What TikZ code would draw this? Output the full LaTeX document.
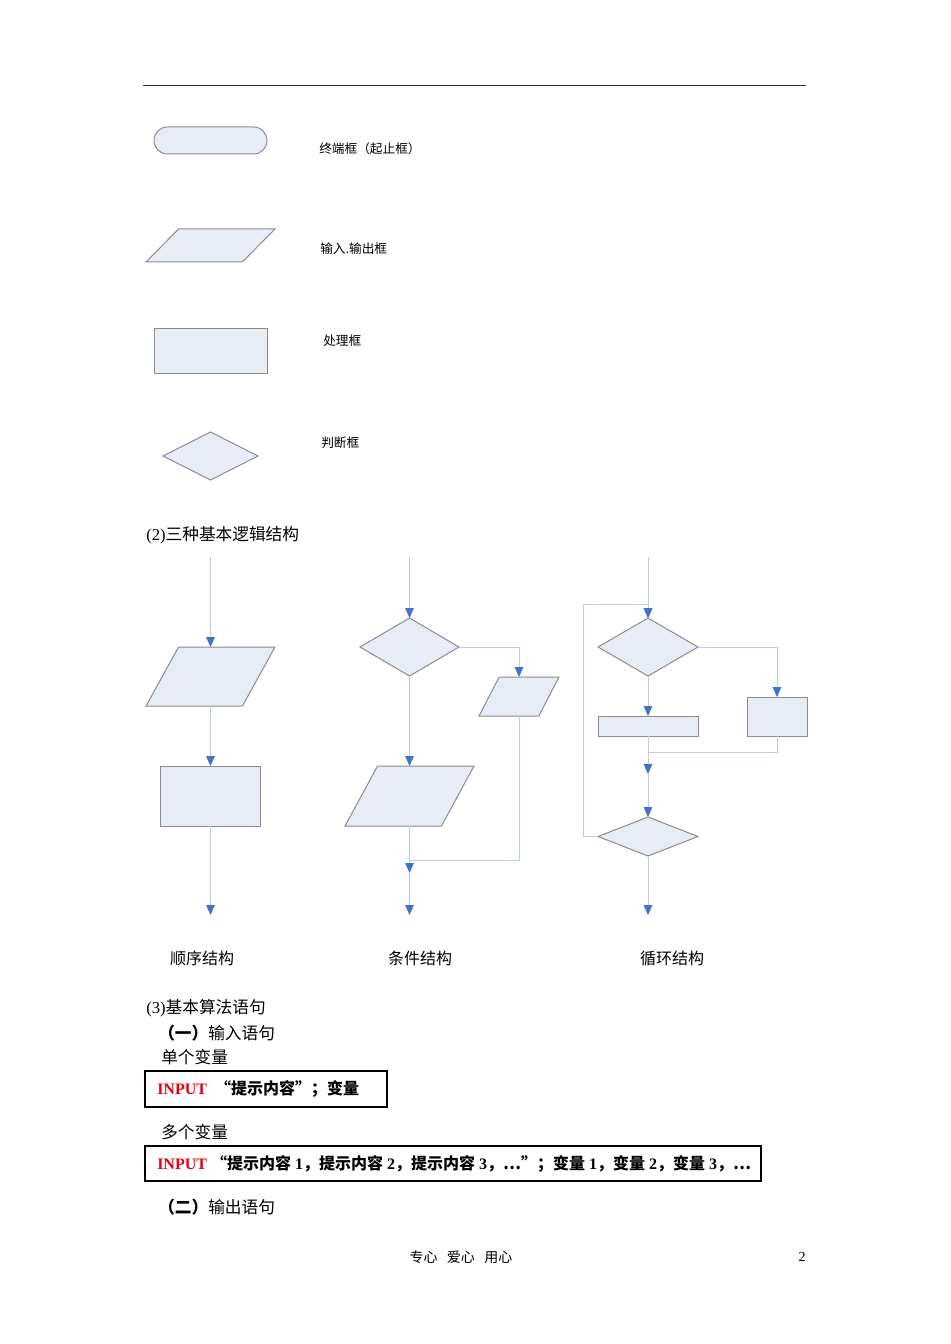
\documentclass[tikz,border=0pt]{standalone}
\usepackage{fontspec}
\setmainfont{Liberation Serif}
\newfontfamily\cjk{Noto Sans CJK SC}
\usetikzlibrary{shapes.geometric,arrows.meta,calc}
\definecolor{shapefill}{RGB}{232,236,247}
\definecolor{shapeline}{RGB}{140,140,140}
\definecolor{connline}{RGB}{185,205,228}
\definecolor{tipblue}{RGB}{68,114,196}
\definecolor{inputred}{RGB}{230,0,18}
\tikzset{
  fc/.style={draw=shapeline, fill=shapefill, line width=0.75pt, inner sep=0pt, outer sep=0pt},
  termbox/.style={fc, rectangle, rounded corners=10pt, minimum width=84.75pt, minimum height=20.25pt},
  procbox/.style={fc, rectangle},
  iobox/.style={fc, inner sep=1pt, trapezium, trapezium left angle=63, trapezium right angle=117, trapezium stretches=true},
  decbox/.style={fc, inner sep=0.5pt, diamond},
  conn/.style={draw=connline, line width=0.75pt},
  arr/.style={conn, -{Triangle[width=6.5pt,length=7.5pt,color=tipblue]}},
  lbl/.style={anchor=west, inner sep=0pt, font=\cjk\fontsize{9.5}{11}\selectfont},
  body/.style={anchor=west, inner sep=0pt, font=\fontsize{12.5}{14}\selectfont},
  structlbl/.style={inner sep=0pt, font=\cjk\fontsize{12}{14}\selectfont},
  codebox/.style={draw=black, line width=1.5pt, rectangle, inner sep=0pt, outer sep=0pt, anchor=north west}
}
\begin{document}
\begin{tikzpicture}[x=0.75pt,y=-0.75pt]
\useasboundingbox (0,0) rectangle (950,1344);
\draw[line width=0.75pt, black!80] (143,86) -- (806,86);

% symbols
\node[termbox] (t1) at (210.5,140.5) {};
\node[lbl] (t1l) at (319,149) {终端框（起止框）};
\node[iobox, minimum width=96.75pt, minimum height=24.75pt] (t2) at (210.5,245.5) {};
\node[lbl] (t2l) at (320,249) {输入.输出框};
\node[procbox, minimum width=84.75pt, minimum height=33.75pt] (t3) at (210.5,350.5) {};
\node[lbl] (t3l) at (323,341) {处理框};
\node[decbox, minimum width=71.25pt, minimum height=36pt] (t4) at (210.5,456) {};
\node[lbl] (t4l) at (321,443) {判断框};

\node[body] (h2) at (146,535) {(2){\cjk 三种基本逻辑结构}};

% sequence
\coordinate (s0) at (210.5,557);
\node[iobox, minimum width=96.75pt, minimum height=44.25pt] (sp) at (210.5,676.5) {};
\node[procbox, minimum width=75pt, minimum height=45pt] (sr) at (210.5,796) {};
\coordinate (s9) at (210.5,915);
\draw[arr] (s0) -- (sp.north);
\draw[arr] (sp.south) -- (sr.north);
\draw[arr] (sr.south) -- (s9);
\node[structlbl] (sl) at (202,958) {顺序结构};

% condition
\coordinate (c0) at (409.5,557);
\node[decbox, minimum width=74.25pt, minimum height=43.5pt] (cd) at (409.5,647) {};
\node[iobox, minimum width=60pt, minimum height=29.25pt] (cp) at (519,696.5) {};
\node[iobox, minimum width=96.75pt, minimum height=45pt] (cq) at (409.5,796) {};
\coordinate (cm) at (409.5,860);
\coordinate (c1) at (409.5,873);
\coordinate (c9) at (409.5,915);
\draw[arr] (c0) -- (cd.north);
\draw[arr] (cd.east) -| (cp.north);
\draw[arr] (cd.south) -- (cq.north);
\draw[conn] (cp.south) |- (cm);
\draw[arr] (cq.south) -- (c1);
\draw[arr] (c1) -- (c9);
\node[structlbl] (cl) at (420,958) {条件结构};

% loop
\coordinate (l0) at (648,557);
\node[decbox, minimum width=75pt, minimum height=43.5pt] (ld) at (648,647) {};
\node[procbox, minimum width=75pt, minimum height=15pt] (lw) at (648,726) {};
\node[procbox, minimum width=45pt, minimum height=29.25pt] (lr) at (777,716.5) {};
\coordinate (lm) at (648,752);
\coordinate (l1) at (648,774);
\node[decbox, minimum width=75pt, minimum height=29.25pt] (lb) at (648,836.5) {};
\coordinate (l9) at (648,915);
\draw[arr] (l0) -- (ld.north);
\draw[arr] (ld.east) -| (lr.north);
\draw[arr] (ld.south) -- (lw.north);
\draw[arr] (lw.south) -- (l1);
\draw[conn] (lr.south) |- (lm);
\draw[arr] (l1) -- (lb.north);
\draw[arr] (lb.south) -- (l9);
\draw[arr] (lb.west) -- ++(-15,0) |- ($(ld.north)+(0,-14)$) -- (ld.north);
\node[structlbl] (ll) at (672,958) {循环结构};

% statements
\node[body] (h3) at (146,1008) {(3){\cjk 基本算法语句}};
\node[body] (h31) at (158,1033) {{\cjk\bfseries （一）}{\cjk 输入语句}};
\node[body] (h311) at (161,1057) {\cjk 单个变量};
\node[codebox, minimum width=181.5pt, minimum height=27pt] (b1) at (145,1071) {};
\node[body, font=\fontsize{12}{14}\selectfont] (b1t) at (157,1089) {\textcolor{inputred}{\bfseries INPUT}\hspace{6pt}{\cjk\bfseries “提示内容”；变量}};
\node[body] (h312) at (161,1132) {\cjk 多个变量};
\node[codebox, minimum width=462pt, minimum height=26.25pt] (b2) at (145,1146) {};
\node[body, font=\fontsize{12}{14}\selectfont] (b2t) at (157,1164) {\textcolor{inputred}{\bfseries INPUT}\ {\cjk\bfseries “提示内容}\ {\bfseries 1}{\cjk\bfseries ，提示内容}\ {\bfseries 2}{\cjk\bfseries ，提示内容}\ {\bfseries 3}{\cjk\bfseries ，…”；变量}\ {\bfseries 1}{\cjk\bfseries ，变量}\ {\bfseries 2}{\cjk\bfseries ，变量}\ {\bfseries 3}{\cjk\bfseries ，…}};
\node[body] (h32) at (158,1207) {{\cjk\bfseries （二）}{\cjk 输出语句}};

% footer
\node[inner sep=0pt, font=\cjk\fontsize{10.5}{12}\selectfont] (ft) at (461,1257) {专心\hspace{7pt}爱心\hspace{7pt}用心};
\node[inner sep=0pt, font=\fontsize{10.5}{12}\selectfont] (pg) at (802,1257) {2};
\end{tikzpicture}
\end{document}
